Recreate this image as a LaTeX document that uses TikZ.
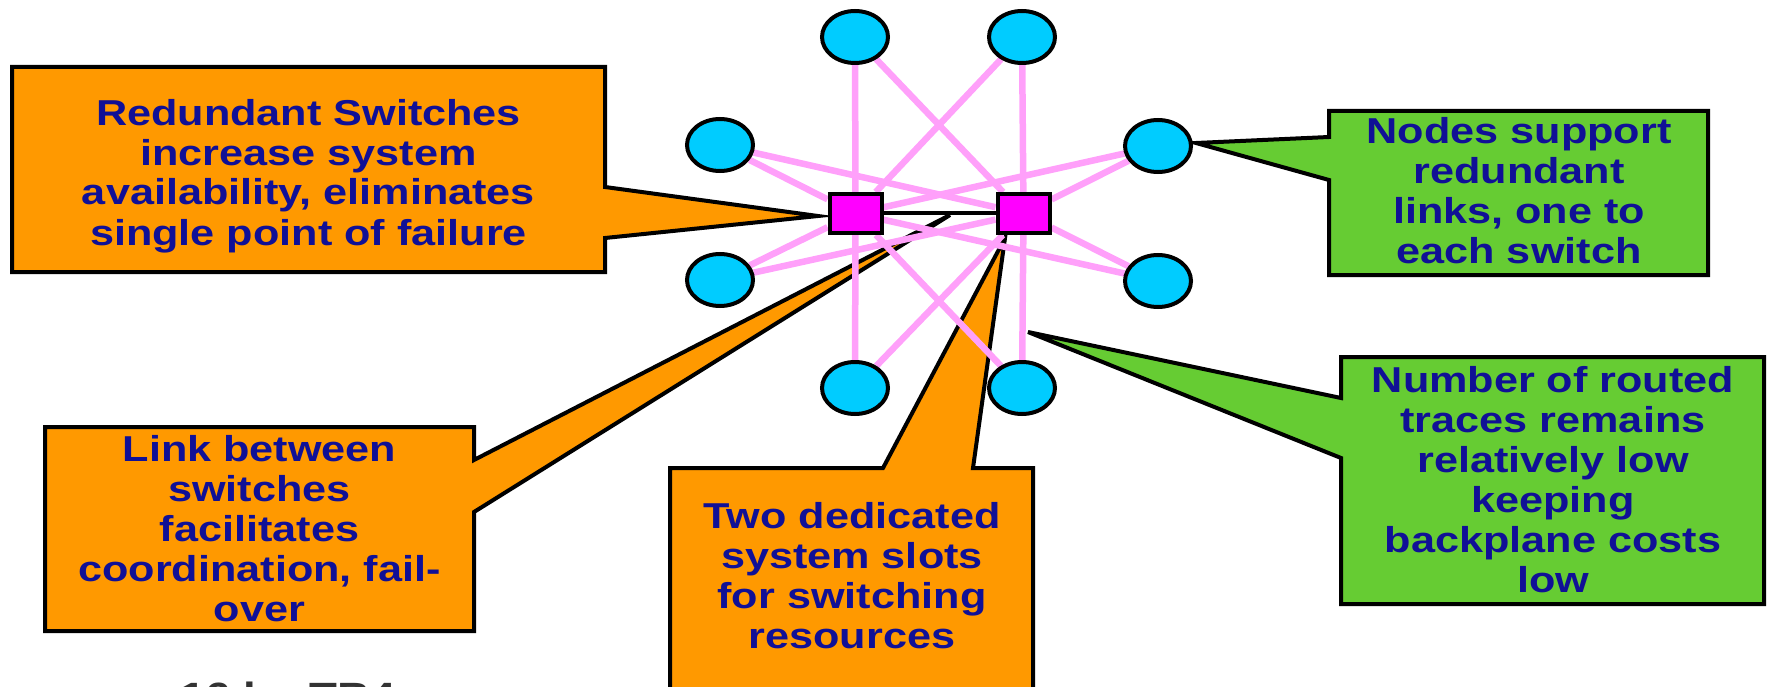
\documentclass[tikz,border=0pt]{standalone}
\usepackage{fontspec}
\newfontfamily\calloutfont[FakeStretch=1.2]{Liberation Sans}
\usetikzlibrary{calc,shapes.geometric}

\pgfdeclarelayer{callouts}
\pgfdeclarelayer{traces}
\pgfsetlayers{callouts,traces,main}

\definecolor{calloutorange}{RGB}{255,153,0}
\definecolor{calloutgreen}{RGB}{102,204,51}
\definecolor{callouttext}{RGB}{16,16,150}
\definecolor{slotcyan}{RGB}{0,204,255}
\definecolor{switchmagenta}{RGB}{255,0,255}
\definecolor{tracepink}{RGB}{255,160,250}

\tikzset{
  slot/.style={ellipse, draw, line width=4pt, fill=slotcyan,
    minimum width=66pt, minimum height=52pt, inner sep=0pt},
  switchbox/.style={rectangle, draw, line width=4pt, fill=switchmagenta,
    minimum width=52pt, minimum height=39pt, inner sep=0pt},
  trace/.style={tracepink, line width=6.5pt},
  calloutframe/.style={rectangle, inner sep=0pt, outer sep=0pt},
  callouttxt/.style={anchor=base, inner sep=0pt, align=center,
    text=callouttext, font=\calloutfont\bfseries\fontsize{36}{40}\selectfont},
  orangecall/.style={draw, line width=4pt, fill=calloutorange},
  greencall/.style={draw, line width=4pt, fill=calloutgreen}
}

\begin{document}
\begin{tikzpicture}[x=1pt, y=-1pt]

  \useasboundingbox (0,0) rectangle (1769,687);

  % the two switches and their link
  \node[switchbox] (swL) at (855.5,213.5) {};
  \node[switchbox] (swR) at (1023.5,213.5) {};
  \draw[line width=4pt] (swL) -- (swR);

  % node slots
  \node[slot] (nTL) at (855,37) {};
  \node[slot] (nTR) at (1022,37) {};
  \node[slot] (nUL) at (720,145) {};
  \node[slot] (nUR) at (1158,146) {};
  \node[slot] (nLL) at (720,280) {};
  \node[slot] (nLR) at (1158,281) {};
  \node[slot] (nBL) at (855,388) {};
  \node[slot] (nBR) at (1022,388) {};

  \begin{pgfonlayer}{traces}
    \foreach \st in {nTL,nTR,nUL,nUR,nLL,nLR,nBL,nBR} {
      \draw[trace] (\st) -- (swL);
      \draw[trace] (\st) -- (swR);
    }
  \end{pgfonlayer}

  % callout frames
  \node[calloutframe, minimum width=593pt, minimum height=205pt] (redundBox) at (308.5,169.5) {};
  \node[calloutframe, minimum width=379pt, minimum height=164pt] (supportBox) at (1518.5,193) {};
  \node[calloutframe, minimum width=429pt, minimum height=204pt] (linkbwBox) at (259.5,529) {};
  \node[calloutframe, minimum width=363pt, minimum height=216pt] (dedicBox) at (851.5,576) {};
  \node[calloutframe, minimum width=423pt, minimum height=247pt] (routedBox) at (1552.5,480.5) {};

  % callout texts, placed on the baseline of their last line
  \node[callouttxt] (redund) at (308.5,245)
    {Redundant Switches\\increase system\\availability, eliminates\\single point of failure};
  \node[callouttxt] (support) at (1519,263)
    {Nodes support\\redundant\\links, one to\\each switch};
  \node[callouttxt] (linkbw) at (259.5,621)
    {Link between\\switches\\facilitates\\coordination, fail-\\over};
  \node[callouttxt] (dedic) at (852,648)
    {Two dedicated\\system slots\\for switching\\resources};
  \node[callouttxt] (routed) at (1553,592)
    {Number of routed\\traces remains\\relatively low\\keeping\\backplane costs\\low};

  % tips of the callouts
  \coordinate (tipRedund) at (818,216);
  \coordinate (tipSupport) at (1196,143);
  \coordinate (tipLinkbw) at (950,215);
  \coordinate (tipDedic) at (1005,238);
  \coordinate (tipRouted) at (1028,332);

  \begin{pgfonlayer}{callouts}
    \draw[orangecall] (redundBox.north west) -- (redundBox.north east)
      -- ($(redundBox.north east)+(0,120)$) -- (tipRedund)
      -- ($(redundBox.north east)+(0,171)$) -- (redundBox.south east)
      -- (redundBox.south west) -- cycle;
    \draw[greencall] (supportBox.north west) -- (supportBox.north east)
      -- (supportBox.south east) -- (supportBox.south west)
      -- ($(supportBox.north west)+(0,69)$) -- (tipSupport)
      -- ($(supportBox.north west)+(0,26)$) -- cycle;
    \draw[orangecall] (linkbwBox.north west) -- (linkbwBox.north east)
      -- ($(linkbwBox.north east)+(0,33)$) -- (tipLinkbw)
      -- ($(linkbwBox.north east)+(0,85)$) -- (linkbwBox.south east)
      -- (linkbwBox.south west) -- cycle;
    \draw[orangecall] (dedicBox.north west) -- ($(dedicBox.north west)+(213,0)$)
      -- (tipDedic) -- ($(dedicBox.north west)+(303,0)$) -- (dedicBox.north east)
      -- ($(dedicBox.south east)+(0,30)$) -- ($(dedicBox.south west)+(0,30)$) -- cycle;
    \draw[greencall] (routedBox.north west) -- (routedBox.north east)
      -- (routedBox.south east) -- (routedBox.south west)
      -- ($(routedBox.north west)+(0,101)$) -- (tipRouted)
      -- ($(routedBox.north west)+(0,41)$) -- cycle;
  \end{pgfonlayer}

  % caption, cut by the lower edge
  \node[anchor=base west, inner sep=0pt, text=black!80,
    font=\calloutfont\bfseries\fontsize{38}{40}\selectfont] (caption) at (180,709) {16 by TB4};

\end{tikzpicture}
\end{document}
